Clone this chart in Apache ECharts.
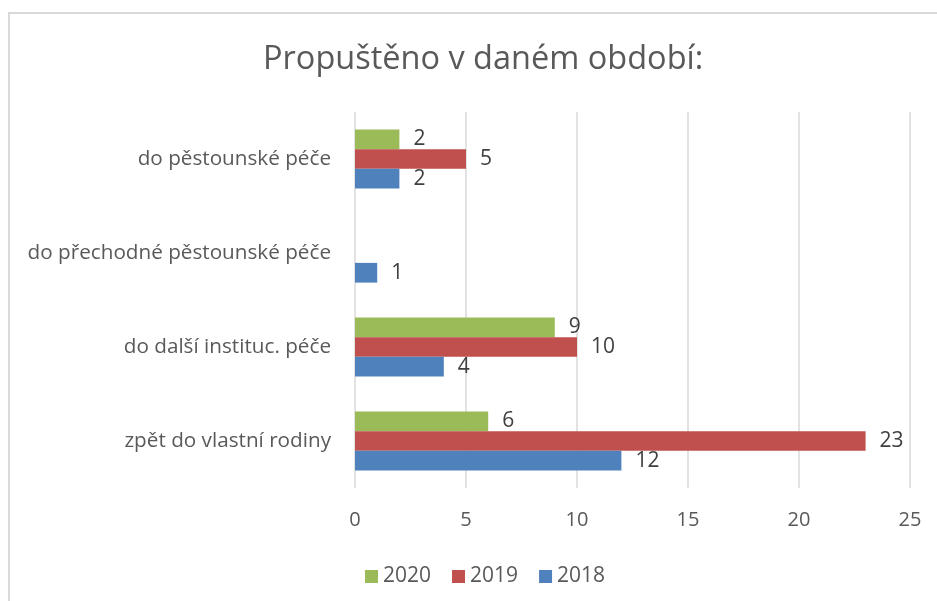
<!DOCTYPE html>
<html>
<head>
<meta charset="utf-8">
<script src="https://cdn.jsdelivr.net/npm/echarts@6/dist/echarts.min.js"></script>
<style>
  html, body { margin: 0; padding: 0; background: #fff; }
  #chart { width: 937px; height: 601px; }
</style>
</head>
<body>
<div id="chart"></div>
<script>
    // categories from bottom to top
    var categories = ['zpět do vlastní rodiny', 'do další instituc. péče', 'do přechodné pěstounské péče', 'do pěstounské péče'];
    var values2018 = [12, 4, 1, 2];
    var values2019 = [23, 10, null, 5];
    var values2020 = [6, 9, null, 2];
    var xTicks = [0, 5, 10, 15, 20, 25];

    var font = 'Open Sans';
    var chart = echarts.init(document.getElementById('chart'));

    function barSeries(name, data, color) {
        return {
            name: name,
            type: 'bar',
            data: data,
            barGap: '0%',
            barCategoryGap: '37%',
            itemStyle: {color: color},
            label: {
                show: true,
                position: 'right',
                distance: 14,
                color: '#404040',
                fontFamily: font,
                fontSize: 21
            }
        };
    }

    var option = {
        animation: false,
        title: {
            text: 'Propuštěno v daném období:',
            left: 258,
            top: 38,
            textStyle: {
                color: '#595959',
                fontFamily: font,
                fontWeight: 'normal',
                fontSize: 32.5
            }
        },
        graphic: [{
            type: 'rect',
            shape: {x: 9, y: 13, width: 1000, height: 700},
            style: {fill: 'none', stroke: '#D9D9D9', lineWidth: 2},
            silent: true
        }],
        legend: {
            data: ['2020', '2019', '2018'],
            top: 561,
            left: 360,
            icon: 'rect',
            itemWidth: 13,
            itemHeight: 13,
            itemGap: 21,
            textStyle: {color: '#595959', fontFamily: font, fontSize: 21}
        },
        grid: {
            left: 355,
            right: 27,
            top: 112,
            bottom: 113,
            containLabel: false
        },
        xAxis: {
            type: 'value',
            min: xTicks[0],
            max: xTicks[xTicks.length - 1],
            interval: 5,
            axisLine: {show: false},
            axisTick: {show: false},
            splitLine: {lineStyle: {color: '#D9D9D9', width: 1.5}},
            axisLabel: {color: '#595959', fontFamily: font, fontSize: 20, margin: 22}
        },
        yAxis: {
            type: 'category',
            data: categories,
            axisLine: {show: false},
            axisTick: {show: false},
            axisLabel: {color: '#595959', fontFamily: font, fontSize: 20.7, margin: 24}
        },
        series: [
            barSeries('2020', values2020, '#9BBB59'),
            barSeries('2019', values2019, '#C0504D'),
            barSeries('2018', values2018, '#4F81BD')
        ]
    };

    chart.setOption(option);
</script>
</body>
</html>
